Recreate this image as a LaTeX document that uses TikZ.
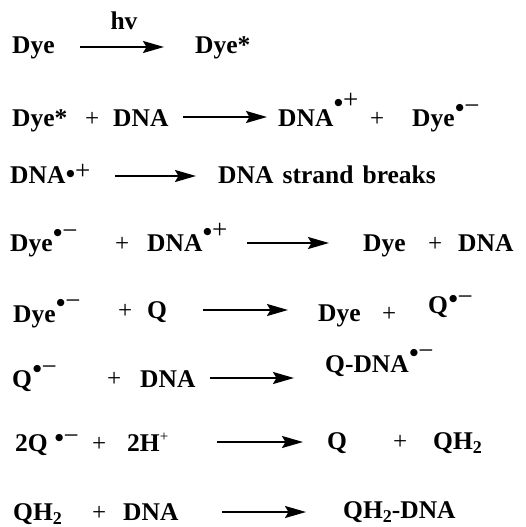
\documentclass[tikz,border=0pt]{standalone}
\usepackage{fontspec}
\setmainfont{Liberation Serif}
\newfontfamily\dotfont{DejaVu Sans}
\usetikzlibrary{arrows.meta}

% radical-ion mark: bullet plus charge, raised by the optional amount (pt)
\newcommand\rdot[2][12]{\kern1pt\raisebox{#1pt}{\mdseries
  \raisebox{3.5pt}{\dotfont\fontsize{9.5}{10}\selectfont ●}\kern0.3pt%
  \fontsize{27}{27}\selectfont #2}}
% subscript two
\newcommand\lowtwo{\raisebox{-4pt}{\fontsize{18}{18}\selectfont 2}}
% small superscript plus (proton)
\newcommand\smallplus{\raisebox{10pt}{\mdseries\fontsize{15}{15}\selectfont +}}

\begin{document}
\begin{tikzpicture}[x=1pt, y=-1pt,
  sp/.style={anchor=base west, inner sep=0pt, font=\bfseries\fontsize{25.5}{30}\selectfont},
  pl/.style={anchor=base west, inner sep=0pt, font=\fontsize{25}{30}\selectfont},
  rxn/.style={line width=1.9pt, -{Stealth[length=21pt, width=12pt, inset=3.5pt]}}]
\useasboundingbox (0,0) rectangle (525,527);

% Dye + hv -> Dye*
\node[sp] (r1a) at (12,54) {Dye};
\node[sp, anchor=base] (hv) at (124,30) {hv};
\node[sp] (r1p) at (195,54) {Dye*};
\coordinate (a1s) at (80,47); \coordinate (a1e) at (164,47);
\draw[rxn] (a1s) -- (a1e);

% Dye* + DNA -> DNA radical cation + Dye radical anion
\node[sp] (r2a) at (12,126) {Dye*};
\node[pl] (r2p1) at (85,126) {+};
\node[sp] (r2b) at (113,126) {DNA};
\node[sp] (r2c) at (278,126) {DNA\rdot[17.5]{+}};
\node[pl] (r2p2) at (370,126) {+};
\node[sp] (r2d) at (412,126) {Dye\rdot[12]{−}};
\coordinate (a2s) at (183,117); \coordinate (a2e) at (267,117);
\draw[rxn] (a2s) -- (a2e);

% DNA radical cation -> strand breaks
\node[sp] (r3a) at (10,183) {DNA\rdot[3.5]{+}};
\node[sp] (r3b) at (218,183) {\spaceskip=0.36em\relax DNA strand breaks};
\coordinate (a3s) at (115,176); \coordinate (a3e) at (196,176);
\draw[rxn] (a3s) -- (a3e);

% back electron transfer
\node[sp] (r4a) at (10,251) {Dye\rdot[12]{−}};
\node[pl] (r4p1) at (115,251) {+};
\node[sp] (r4b) at (147,251) {DNA\rdot[13]{+}};
\node[sp] (r4c) at (363,251) {Dye};
\node[pl] (r4p2) at (428,251) {+};
\node[sp] (r4d) at (458,251) {DNA};
\coordinate (a4s) at (247,243); \coordinate (a4e) at (329,243);
\draw[rxn] (a4s) -- (a4e);

% electron transfer to Q
\node[sp] (r5a) at (13,322) {Dye\rdot[13]{−}};
\node[pl] (r5p1) at (118,318) {+};
\node[sp] (r5b) at (147,318) {Q};
\node[sp] (r5c) at (318,321) {Dye};
\node[pl] (r5p2) at (382,321) {+};
\node[sp] (r5d) at (428,313) {Q\rdot[8]{−}};
\coordinate (a5s) at (203,310); \coordinate (a5e) at (288,310);
\draw[rxn] (a5s) -- (a5e);

% Q radical anion + DNA
\node[sp] (r6a) at (12,387) {Q\rdot[12]{−}};
\node[pl] (r6p1) at (107,386) {+};
\node[sp] (r6b) at (140,387) {DNA};
\node[sp] (r6c) at (325,372) {Q-DNA\rdot[13]{−}};
\coordinate (a6s) at (210,378); \coordinate (a6e) at (294,378);
\draw[rxn] (a6s) -- (a6e);

% disproportionation
\node[sp] (r7a) at (15,451) {2Q\ \rdot[7]{−}};
\node[pl] (r7p1) at (92,451) {+};
\node[sp] (r7b) at (127,451) {2H\smallplus};
\node[sp] (r7c) at (327,449) {Q};
\node[pl] (r7p2) at (393,449) {+};
\node[sp] (r7d) at (433,449) {QH\lowtwo};
\coordinate (a7s) at (217,442); \coordinate (a7e) at (303,442);
\draw[rxn] (a7s) -- (a7e);

% QH2 adduct
\node[sp] (r8a) at (13,520) {QH\lowtwo};
\node[pl] (r8p1) at (92,520) {+};
\node[sp] (r8b) at (123,520) {DNA};
\node[sp] (r8c) at (343,518) {QH\lowtwo-DNA};
\coordinate (a8s) at (222,512); \coordinate (a8e) at (306,512);
\draw[rxn] (a8s) -- (a8e);
\end{tikzpicture}
\end{document}
